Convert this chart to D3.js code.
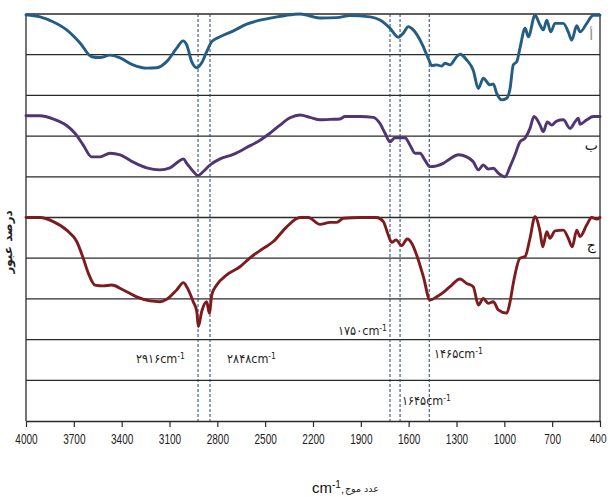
<!DOCTYPE html>
<html>
<head>
<meta charset="utf-8">
<script src="https://cdn.jsdelivr.net/npm/d3@7/dist/d3.min.js"></script>
<style>
  body { margin: 0; background: #fff; }
  svg { display: block; }
</style>
</head>
<body>
<svg id="chart" width="610" height="497"></svg>
<script>
// wavenumber ticks (cm-1) and transmittance grid levels (%)
const xTicks = [4000, 3700, 3400, 3100, 2800, 2500, 2200, 1900, 1600, 1300, 1000, 700, 400];
const gridLevels = [10, 20, 30, 40, 50, 60, 70, 80, 90, 100];

// marked peaks: dashed line positions
const peakLines = [2921, 2846, 1717, 1654, 1471];
const peakNames = ["۲۹۱۶", "۲۸۴۸", "۱۷۵۰", "۱۴۶۵", "۱۶۴۵"];
const peakAnchorWn = [3003, 2739, 1736, 1441, 1642];
const peakAnchorT = [14.3, 14.3, 21.1, 15.5, 3.9];

const seriesNames = ["أ", "ب", "ج"];

// spectrum أ  [wavenumber, %T]
const curveA = [[4000,99.8],[3912,99.3],[3831,98.1],[3745,96.1],[3661,92.9],[3588,89.5],[3536,89.3],[3473,89.9],
  [3410,89.2],[3329,87.5],[3243,86.7],[3180,86.8],[3118,88.3],[3055,91.6],[3015,93.4],[2992,92.4],[2961,88.3],
  [2929,86.8],[2898,88.0],[2867,90.7],[2835,93.2],[2783,94.4],[2702,95.8],[2616,97.5],[2532,98.5],[2451,99.1],
  [2365,99.7],[2282,100],[2219,99.5],[2156,99.0],[2051,99.1],[1968,99.6],[1842,99.3],[1780,98.5],[1717,96.5],
  [1665,94.3],[1634,95.3],[1602,96.9],[1571,96.1],[1518,92.8],[1477,89.1],[1455,87.3],[1424,87.5],[1393,87.2],
  [1372,87.9],[1341,87.5],[1299,89.5],[1278,90.1],[1236,88.7],[1195,86.2],[1163,81.7],[1132,84.2],[1090,82.6],
  [1069,82.8],[1048,80.5],[1016,78.9],[985,79.3],[964,81.7],[944,87.5],[922,88.3],[902,91.6],[870,96.5],
  [849,94.4],[808,99.7],[776,97.3],[755,96.1],[734,98.5],[709,95.6],[682,97.7],[630,97.7],[599,95.6],
  [577,93.6],[546,97.1],[525,95.6],[483,97.7],[442,99.7],[400,99.7]];

// spectrum ب
const curveB = [[4000,75.0],[3912,75.0],[3829,74.2],[3745,72.6],[3693,70.7],[3641,67.8],[3588,64.9],[3536,64.9],
  [3473,65.8],[3410,65.4],[3327,63.6],[3243,62.2],[3160,61.7],[3097,62.2],[3045,63.7],[3013,64.4],[2992,63.3],
  [2951,61.3],[2923,60.3],[2888,61.3],[2846,62.9],[2783,64.4],[2700,65.5],[2616,67.2],[2532,69.0],[2470,70.7],
  [2407,72.7],[2344,74.5],[2282,75.2],[2219,74.6],[2156,74.0],[2093,74.1],[2031,74.2],[1999,74.8],[1905,74.8],
  [1822,74.6],[1780,73.1],[1748,70.7],[1717,68.6],[1686,69.6],[1623,69.6],[1592,67.8],[1560,65.8],[1529,65.8],
  [1498,64.1],[1466,62.5],[1424,62.7],[1383,63.3],[1341,64.4],[1289,65.4],[1236,64.9],[1195,63.7],[1163,61.7],
  [1132,62.9],[1101,61.9],[1069,62.1],[1038,60.9],[996,60.0],[964,62.5],[933,65.4],[902,68.6],[870,69.5],
  [839,71.9],[814,74.8],[776,72.7],[756,71.1],[730,73.5],[703,72.7],[672,73.7],[630,74.0],[588,71.9],
  [557,73.5],[536,74.4],[525,72.9],[483,74.0],[442,74.8],[400,74.8]];

// spectrum ج
const curveC = [[4000,50.0],[3912,50.0],[3829,49.0],[3745,46.9],[3682,44.1],[3641,40.0],[3609,36.3],[3567,33.4],
  [3515,33.2],[3463,33.4],[3390,32.2],[3306,30.5],[3222,29.5],[3160,29.3],[3118,29.9],[3055,32.2],[3013,34.0],
  [2992,33.0],[2951,29.3],[2929,26.9],[2919,23.2],[2898,26.9],[2867,29.3],[2850,26.5],[2835,31.0],[2804,33.4],
  [2741,35.9],[2658,37.9],[2595,40.1],[2512,42.4],[2449,44.1],[2365,47.7],[2282,50.0],[2229,50.0],[2156,48.3],
  [2093,48.8],[2051,48.8],[2010,49.8],[1905,50.0],[1800,50.0],[1759,49.0],[1728,45.7],[1706,43.9],[1679,44.5],
  [1644,43.1],[1609,44.7],[1581,43.7],[1550,40.8],[1508,35.5],[1466,29.7],[1424,30.5],[1383,31.6],[1341,33.0],
  [1278,34.9],[1236,33.8],[1195,33.0],[1163,28.5],[1132,30.1],[1101,28.9],[1069,29.3],[1038,27.3],[985,26.5],
  [964,29.3],[944,33.8],[902,40.0],[870,40.4],[839,44.9],[808,50.2],[776,46.5],[759,42.8],[734,46.5],
  [714,44.9],[682,46.7],[630,46.9],[599,44.9],[574,42.8],[546,46.9],[525,45.3],[483,48.2],[452,50.0],
  [421,49.6],[400,50.0]];

const curves = [curveA, curveB, curveC];
const colors = ["#245d84", "#4f3572", "#7c1c1e"];

const svg = d3.select("#chart");
const margin = { top: 14, right: 10, bottom: 76, left: 26 };
const W = 610, H = 497;

const x = d3.scaleLinear().domain([4000, 400]).range([margin.left, W - margin.right]);
const y = d3.scaleLinear().domain([0, 100]).range([H - margin.bottom, margin.top]);

// horizontal grid
svg.append("g")
  .selectAll("line")
  .data(gridLevels)
  .join("line")
  .attr("x1", x(4000)).attr("x2", x(400))
  .attr("y1", d => y(d)).attr("y2", d => y(d))
  .attr("stroke", "#2a2a2a")
  .attr("stroke-width", 1.3);

// frame sides
svg.append("g")
  .selectAll("line")
  .data([4000, 400])
  .join("line")
  .attr("x1", d => x(d)).attr("x2", d => x(d))
  .attr("y1", y(100)).attr("y2", y(0))
  .attr("stroke", "#2a2a2a")
  .attr("stroke-width", 1.3);

// x axis (labels squeezed to look like the narrow original font)
const xAxis = svg.append("g")
  .attr("transform", `translate(0,${y(0)})`)
  .call(d3.axisBottom(x).tickValues(xTicks).tickSize(6).tickSizeOuter(0).tickFormat(d3.format("d")));
xAxis.select(".domain").attr("stroke", "#2a2a2a").attr("stroke-width", 1.3);
xAxis.selectAll(".tick line").attr("stroke", "#2a2a2a").attr("stroke-width", 1.2);
xAxis.selectAll(".tick text")
  .attr("font-family", "'Liberation Sans', sans-serif")
  .attr("font-size", 14)
  .attr("fill", "#1e1e1e")
  .attr("dy", "1.0em")
  .attr("textLength", d => String(d).length * 5.6)
  .attr("lengthAdjust", "spacingAndGlyphs");
// last label sits against the right edge
xAxis.selectAll(".tick text").filter(d => d === 400)
  .attr("text-anchor", "end")
  .attr("font-size", 13)
  .attr("x", 6);

// dashed peak markers
svg.append("g")
  .selectAll("line")
  .data(peakLines)
  .join("line")
  .attr("x1", d => x(d)).attr("x2", d => x(d))
  .attr("y1", y(100)).attr("y2", y(0))
  .attr("stroke", "#26406e")
  .attr("stroke-width", 1)
  .attr("stroke-dasharray", "3,2");

// spectra
const line = d3.line()
  .x(d => x(d[0]))
  .y(d => y(d[1]))
  .curve(d3.curveMonotoneX);

svg.append("g")
  .selectAll("path")
  .data(curves)
  .join("path")
  .attr("d", line)
  .attr("fill", "none")
  .attr("stroke", (d, i) => colors[i])
  .attr("stroke-width", 2.9)
  .attr("stroke-linejoin", "round")
  .attr("stroke-linecap", "round");

// peak labels
const labelAnchor = ["end", "start", "end", "start", "start"];
const pl = svg.append("g")
  .selectAll("text")
  .data(peakNames)
  .join("text")
  .attr("x", (d, i) => x(peakAnchorWn[i]))
  .attr("y", (d, i) => y(peakAnchorT[i]))
  .attr("text-anchor", (d, i) => labelAnchor[i])
  .attr("font-family", "'DejaVu Sans Condensed', 'DejaVu Sans', sans-serif")
  .attr("font-size", 12.5)
  .attr("fill", "#1e1e1e");
pl.append("tspan").text(d => d + "cm");
pl.append("tspan").attr("dy", -4).attr("font-size", 8.5).text("-1");

// series labels at the right edge
const seriesT = [93.5, 66.5, 42];
svg.append("g")
  .selectAll("text")
  .data(seriesNames)
  .join("text")
  .attr("x", x(455))
  .attr("y", (d, i) => y(seriesT[i]))
  .attr("text-anchor", "middle")
  .attr("font-family", "'DejaVu Sans', sans-serif")
  .attr("font-size", 14)
  .attr("fill", (d, i) => (i === 0 ? "#8a8a8a" : "#111"))
  .text(d => d);

// axis titles
const xt = svg.append("text")
  .attr("x", 312)
  .attr("y", 493)
  .attr("font-family", "'Liberation Sans', sans-serif")
  .attr("font-size", 15)
  .attr("fill", "#111");
xt.append("tspan").text("cm");
xt.append("tspan").attr("dy", -5).attr("font-size", 10).text("-1");
xt.append("tspan").attr("dy", 5).attr("font-size", 11).text(",");
const xtEnd = 312 + xt.node().getComputedTextLength();

svg.append("text")
  .attr("x", xtEnd + 1)
  .attr("y", 492)
  .attr("text-anchor", "start")
  .attr("font-family", "'DejaVu Sans', sans-serif")
  .attr("font-size", 9.5)
  .attr("fill", "#222")
  .text("عدد موج");

svg.append("text")
  .attr("transform", `translate(12,${y(44)}) rotate(-90)`)
  .attr("text-anchor", "middle")
  .attr("font-family", "'DejaVu Sans', sans-serif")
  .attr("font-size", 12)
  .attr("font-weight", "bold")
  .attr("fill", "#222")
  .text("درصد عبور");
</script>
</body>
</html>
